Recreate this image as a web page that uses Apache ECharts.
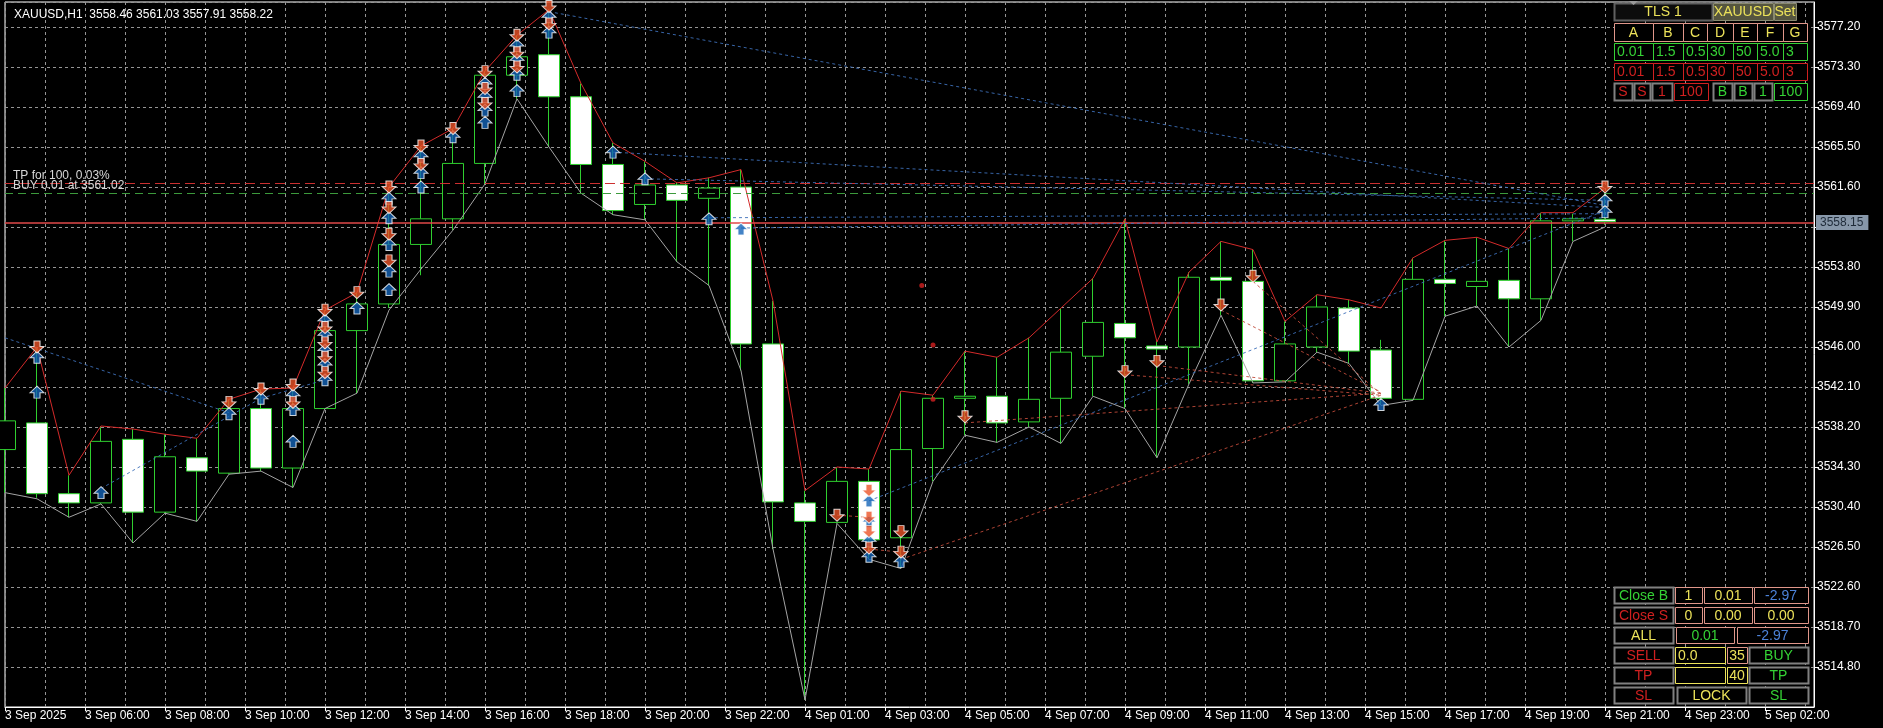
<!DOCTYPE html>
<html><head><meta charset="utf-8">
<script src="https://cdn.jsdelivr.net/npm/echarts@6/dist/echarts.min.js"></script>
<style>html,body{margin:0;padding:0;background:#000;}#c{width:1883px;height:728px;}</style>
</head><body><div id="c"></div>
<script>
// ---------- DATA ----------
const symbolName = 'XAUUSD,H1';
const timeLabels = ['3 Sep 2025','3 Sep 06:00','3 Sep 08:00','3 Sep 10:00','3 Sep 12:00','3 Sep 14:00','3 Sep 16:00','3 Sep 18:00','3 Sep 20:00','3 Sep 22:00','4 Sep 01:00','4 Sep 03:00','4 Sep 05:00','4 Sep 07:00','4 Sep 09:00','4 Sep 11:00','4 Sep 13:00','4 Sep 15:00','4 Sep 17:00','4 Sep 19:00','4 Sep 21:00','4 Sep 23:00','5 Sep 02:00'];
const opens  = [3536.0,3538.6,3531.7,3530.8,3537.0,3529.9,3535.2,3533.7,3540.0,3534.2,3540.0,3547.6,3550.2,3556.0,3558.5,3563.9,3572.5,3574.5,3570.4,3563.8,3559.9,3561.8,3560.5,3561.6,3546.3,3530.8,3528.9,3532.9,3527.4,3536.1,3541.0,3541.2,3538.7,3541.0,3545.1,3548.3,3546.1,3546.0,3552.8,3552.4,3542.7,3546.0,3549.8,3545.7,3540.9,3552.6,3551.9,3552.5,3550.7,3558.3,3558.46];
const highs  = [3542.0,3546.0,3533.5,3538.3,3538.0,3537.5,3537.1,3540.9,3541.9,3542.0,3549.6,3551.3,3561.6,3565.6,3567.3,3572.9,3576.4,3578.9,3571.7,3565.9,3564.1,3562.0,3562.5,3563.3,3550.5,3532.0,3534.3,3534.1,3541.7,3541.3,3545.6,3545.0,3546.9,3549.8,3552.7,3558.5,3546.6,3553.3,3556.3,3555.5,3548.5,3551.1,3550.6,3546.7,3554.7,3556.4,3556.7,3555.6,3559.1,3559.0,3561.03];
const lows   = [3531.8,3531.3,3529.4,3530.7,3526.9,3529.8,3529.0,3533.6,3533.9,3532.3,3540.0,3541.5,3549.8,3553.0,3557.4,3561.9,3570.2,3565.5,3561.0,3558.9,3558.4,3554.3,3552.0,3543.7,3526.3,3511.6,3528.8,3525.3,3524.4,3532.9,3537.4,3536.7,3538.2,3536.6,3541.2,3540.0,3535.2,3542.4,3549.1,3542.5,3542.6,3545.5,3544.4,3540.4,3540.8,3549.0,3550.0,3546.0,3548.6,3556.3,3557.91];
const closes = [3538.8,3531.7,3530.8,3536.8,3529.9,3535.3,3533.9,3540.0,3534.2,3540.0,3547.6,3550.2,3556.0,3558.5,3563.9,3572.5,3574.3,3570.4,3563.8,3559.3,3561.8,3560.3,3561.5,3546.3,3530.9,3529.0,3532.9,3527.2,3536.0,3541.0,3541.2,3538.6,3540.9,3545.5,3548.4,3546.9,3545.8,3552.8,3552.5,3542.7,3546.3,3549.9,3545.6,3541.0,3552.6,3552.2,3552.4,3550.7,3558.3,3558.5,3558.22];
// indicator lines (red upper line, gray lower line)
const redLine  = [3542.0,3546.0,3533.5,3538.3,3538.0,3537.5,3537.1,3540.9,3541.9,3542.0,3549.6,3551.3,3561.6,3565.6,3567.3,3572.9,3576.4,3578.9,3571.7,3565.9,3564.1,3562.0,3562.5,3563.3,3550.5,3532.0,3534.3,3534.1,3541.7,3541.3,3545.6,3545.0,3546.9,3549.8,3552.7,3558.5,3546.5,3553.3,3556.3,3555.5,3548.5,3551.1,3550.6,3549.8,3554.7,3556.4,3556.7,3555.6,3559.1,3559.1,3561.5];
const grayLine = [3531.8,3531.2,3529.4,3530.7,3526.9,3529.8,3529.0,3533.6,3533.9,3532.3,3540.0,3541.5,3549.6,3553.6,3557.4,3561.9,3570.2,3565.5,3561.0,3558.9,3558.4,3554.3,3552.0,3543.7,3526.3,3511.6,3528.8,3525.3,3524.4,3532.9,3537.4,3536.7,3538.2,3536.6,3541.2,3540.0,3535.2,3542.4,3549.1,3542.5,3542.6,3545.5,3544.4,3540.3,3540.8,3549.0,3550.0,3546.0,3548.6,3556.3,3557.7];
// trade arrows [bar, price]
const buyArrows = [[1,3545.0],[1,3541.6],[3,3531.8],[7,3539.5],[8,3541.0],[9,3541.3],[9,3539.9],[9,3536.8],
 [10,3548.6],[10,3547.2],[10,3545.7],[10,3544.3],[10,3542.8],[11,3549.8],
 [12,3560.5],[12,3558.6],[12,3556.0],[12,3553.4],[12,3551.6],[13,3564.6],[13,3563.0],[13,3561.6],[14,3566.5],
 [15,3571.7],[15,3570.4],[15,3569.1],[15,3567.9],[16,3575.4],[16,3574.0],[16,3572.6],[16,3571.0],[17,3578.2],[17,3576.7],
 [19,3565.0],[20,3562.4],[22,3558.5],[23,3557.5],[27,3531.0],[27,3529.0],[27,3527.1],[27,3525.6],[28,3525.1],[43,3540.4],[50,3560.3],[50,3559.2]];
const sellArrows = [[1,3546.0],[7,3540.6],[8,3541.9],[9,3542.3],[9,3540.6],
 [10,3549.6],[10,3547.9],[10,3546.4],[10,3545.0],[10,3543.5],[11,3551.3],
 [12,3561.6],[12,3559.6],[12,3557.0],[12,3554.4],[13,3565.6],[13,3563.8],[14,3567.3],
 [15,3572.85],[15,3571.2],[15,3569.75],[16,3576.4],[16,3574.7],[16,3573.3],[17,3579.2],[17,3577.5],
 [26,3529.6],[27,3532.0],[27,3529.4],[27,3528.0],[27,3526.4],[28,3528.0],[28,3526.0],
 [30,3539.2],[35,3543.6],[36,3544.6],[38,3550.1],[39,3552.9],[50,3561.6]];
// dotted trade lines [x1, p1, x2, p2]
const buyTradeLines = [[0,3546.9,7,3539.6],[3,3532.2,8,3541.0],[8,3541.0,10,3542.8],[17,3578.7,50,3559.8],[19,3565.0,50,3559.6],
 [20,3562.4,50,3560.3],[22,3558.6,50,3559.0],[23,3557.6,50,3558.6],[27,3531.0,50,3559.3]];
const sellTradeLines = [[35,3543.3,43,3541.3],[36,3544.2,43,3541.5],[38,3549.6,43,3541.6],[39,3552.4,43,3541.4],
 [28,3525.3,43,3541.3],[30,3538.6,43,3541.5],[26,3529.6,27,3529.4],[27,3526.3,28,3526.0]];
const sarDots = [[28.65,3552.0],[29.0,3546.2],[29.0,3540.9]];
const tpPrice = 3562.0, buyPrice = 3561.02, bidPrice = 3558.15;
const tpText = 'TP for 100, 0.03%';
const buyText = 'BUY 0.01 at ' + buyPrice.toFixed(2);
const Y_MIN = 3510.9, Y_STEP = 3.9, Y_MAX = 3579.64;

// ---------- CHART ----------
const FONT = 'Liberation Sans, Arial, sans-serif';
const GREEN = '#2fcf2f';
const GRIDC = '#959595';
const X_MAX = 1809 / 32;
const candleData = opens.map((o, i) => [i, o, closes[i], lows[i], highs[i]]);
const last = opens.length - 1;
const titleText = symbolName + '  ' + [opens[last], highs[last], lows[last], closes[last]].map(v => v.toFixed(2)).join(' ');
const UP = 'path://M6,0 L12,6 L8.6,6 L8.6,11 L3.4,11 L3.4,6 L0,6 Z';

const chart = echarts.init(document.getElementById('c'), null, {renderer: 'canvas'});

// panels (UI widgets)
const SAL = '#e0968a', YEL = '#ece25a', GR = '#35d235', RD = '#d02020', BL = '#4c82d8', BTN = '#808080';
const graphics = [];
function cell(x, y, w, h, text, stroke, color, opt) {
  opt = opt || {};
  graphics.push({type: 'rect', z: 100, shape: {x: x + 0.5, y: y + 0.5, width: w, height: h},
    style: {fill: opt.fill || '#000', stroke: stroke, lineWidth: opt.lw || 1}});
  if (text !== '') {
    const left = opt.align === 'left';
    graphics.push({type: 'text', z: 101, style: {text: text, x: left ? x + 3 : x + w / 2, y: y + h / 2 + 1,
      align: left ? 'left' : 'center', verticalAlign: 'middle', fill: color, font: (opt.fs || 14) + 'px ' + FONT}});
  }
}
// top panel
cell(1614, 3, 98, 17, 'TLS 1', '#606060', YEL, {fill: '#0c0c0c', lw: 2});
cell(1713, 3, 60, 17, 'XAUUSD', '#8a8a70', YEL, {fill: '#55553f'});
cell(1774, 3, 22, 17, 'Set', '#8a8a70', YEL, {fill: '#55553f'});
graphics.push({type: 'polygon', z: 102, shape: {points: [[1629, 1], [1638, 1], [1633.5, 5]]}, style: {fill: '#9a9a9a'}});
const colX = [1614, 1653, 1683, 1707, 1733, 1757, 1783, 1807];
const heads = ['A', 'B', 'C', 'D', 'E', 'F', 'G'];
const rowG = ['0.01', '1.5', '0.5', '30', '50', '5.0', '3'];
heads.forEach((t, i) => {
  const w = colX[i + 1] - colX[i];
  cell(colX[i], 23, w, 18, t, SAL, YEL, {});
  cell(colX[i], 43, w, 17, rowG[i], GR, GR, {align: 'left'});
  cell(colX[i], 63, w, 17, rowG[i], RD, RD, {align: 'left'});
});
cell(1614, 83, 18, 17, 'S', BTN, RD, {lw: 2});
cell(1634, 83, 16, 17, 'S', BTN, RD, {lw: 2});
cell(1652, 83, 20, 17, '1', BTN, RD, {lw: 2});
cell(1674, 83, 34, 17, '100', RD, RD, {});
cell(1713, 83, 19, 17, 'B', BTN, GR, {lw: 2});
cell(1734, 83, 18, 17, 'B', BTN, GR, {lw: 2});
cell(1754, 83, 18, 17, '1', BTN, GR, {lw: 2});
cell(1774, 83, 33, 17, '100', GR, GR, {});
// bottom panel
cell(1614, 587, 59, 16, 'Close B', BTN, GR, {lw: 2});
cell(1675, 587, 27, 16, '1', SAL, YEL, {});
cell(1704, 587, 48, 16, '0.01', SAL, YEL, {});
cell(1754, 587, 54, 16, '-2.97', SAL, BL, {});
cell(1614, 607, 59, 16, 'Close S', BTN, RD, {lw: 2});
cell(1675, 607, 27, 16, '0', SAL, YEL, {});
cell(1704, 607, 48, 16, '0.00', SAL, YEL, {});
cell(1754, 607, 54, 16, '0.00', SAL, YEL, {});
cell(1614, 627, 59, 16, 'ALL', BTN, YEL, {lw: 2});
cell(1676, 627, 58, 16, '0.01', SAL, GR, {});
cell(1737, 627, 71, 16, '-2.97', SAL, BL, {});
cell(1614, 647, 59, 16, 'SELL', BTN, RD, {lw: 2});
cell(1675, 647, 50, 16, '0.0', YEL, YEL, {align: 'left'});
cell(1727, 647, 20, 16, '35', SAL, YEL, {});
cell(1749, 647, 59, 16, 'BUY', BTN, GR, {lw: 2});
cell(1614, 667, 59, 16, 'TP', BTN, RD, {lw: 2});
cell(1675, 667, 50, 16, '', YEL, YEL, {});
cell(1727, 667, 20, 16, '40', YEL, YEL, {});
cell(1749, 667, 59, 16, 'TP', BTN, GR, {lw: 2});
cell(1614, 687, 59, 16, 'SL', BTN, RD, {lw: 2});
cell(1677, 687, 69, 16, 'LOCK', BTN, YEL, {lw: 2});
cell(1749, 687, 59, 16, 'SL', BTN, GR, {lw: 2});

const toLines = arr => arr.map(a => ({coords: [[a[0], a[1]], [a[2], a[3]]]}));

const option = {
  backgroundColor: '#000',
  animation: false,
  title: {text: titleText, left: 9, top: 4, textStyle: {color: '#fff', fontSize: 12, fontWeight: 'normal', fontFamily: FONT}},
  grid: {left: 5, right: 69, top: 2, bottom: 21, show: true, borderColor: '#fff', borderWidth: 1, backgroundColor: 'transparent'},
  xAxis: [
    {type: 'value', min: 0, max: X_MAX, interval: 2.5, position: 'bottom',
      axisLine: {show: true, onZero: false, lineStyle: {color: '#fff'}},
      axisTick: {show: true, length: 4, lineStyle: {color: '#fff'}},
      axisLabel: {color: '#fff', fontSize: 12, fontFamily: FONT, align: 'left', margin: 3, showMaxLabel: false,
        formatter: v => { const j = Math.round(v / 2.5); return Math.abs(v - j * 2.5) < 1e-6 && timeLabels[j] ? timeLabels[j] : ''; }},
      splitLine: {show: false}},
    {type: 'value', min: 0, max: X_MAX, interval: 1.25, position: 'top',
      axisLine: {show: false}, axisTick: {show: false}, axisLabel: {show: false},
      splitLine: {show: true, lineStyle: {color: GRIDC, type: [3, 3], width: 1}}}
  ],
  yAxis: {type: 'value', position: 'right', min: Y_MIN, max: Y_MAX, interval: Y_STEP,
    axisLine: {show: true, onZero: false, lineStyle: {color: '#fff'}},
    axisTick: {show: true, length: 5, lineStyle: {color: '#fff'}},
    axisLabel: {color: '#fff', fontSize: 12, fontFamily: FONT, margin: 3, showMinLabel: false, showMaxLabel: false,
      formatter: v => v.toFixed(2)},
    splitLine: {show: true, lineStyle: {color: GRIDC, type: [3, 3], width: 1}}},
  graphic: graphics,
  series: [
    {type: 'candlestick', name: 'price', xAxisIndex: 0, data: candleData, barWidth: 21, z: 3,
      itemStyle: {color: '#000', color0: '#fff', borderColor: GREEN, borderColor0: GREEN, borderColorDoji: GREEN, borderWidth: 1}},
    {type: 'line', name: 'upper', xAxisIndex: 0, data: redLine.map((v, i) => [i, v]), symbol: 'none', z: 4,
      lineStyle: {color: '#d42a2a', width: 1}},
    {type: 'line', name: 'lower', xAxisIndex: 0, data: grayLine.map((v, i) => [i, v]), symbol: 'none', z: 4,
      lineStyle: {color: '#a4a4a4', width: 1},
      markLine: {silent: true, symbol: ['none', 'none'], animation: false,
        data: [
          {yAxis: tpPrice, lineStyle: {color: '#cc3030', type: [10, 5], width: 1},
            label: {show: true, position: 'insideStartTop', distance: 1, padding: [0, 0, 0, 7], formatter: tpText, color: '#d8d8d8', fontSize: 12, fontFamily: FONT}},
          {yAxis: buyPrice, lineStyle: {color: '#3c9a3c', type: [8, 5], width: 1},
            label: {show: true, position: 'insideStartTop', distance: 1, padding: [0, 0, 0, 7], formatter: buyText, color: '#d8d8d8', fontSize: 12, fontFamily: FONT}},
          {yAxis: bidPrice, lineStyle: {color: '#e04848', type: 'solid', width: 1.5},
            label: {show: true, position: 'end', distance: 2, formatter: bidPrice.toFixed(2), color: '#1e2a38',
              backgroundColor: '#8797a9', padding: [2, 5, 1, 4], fontSize: 12, fontFamily: FONT}}
        ]}},
    {type: 'lines', coordinateSystem: 'cartesian2d', xAxisIndex: 0, z: 5, silent: true, data: toLines(buyTradeLines),
      lineStyle: {color: '#3d6fb8', type: [3, 3], width: 1, opacity: 0.9}},
    {type: 'lines', coordinateSystem: 'cartesian2d', xAxisIndex: 0, z: 5, silent: true, data: toLines(sellTradeLines),
      lineStyle: {color: '#c04a3a', type: [3, 3], width: 1, opacity: 0.9}},
    {type: 'scatter', xAxisIndex: 0, data: sarDots, symbol: 'circle', symbolSize: 5, z: 6, itemStyle: {color: '#d42020'}},
    {type: 'scatter', xAxisIndex: 0, data: buyArrows, symbol: UP, symbolSize: [14, 12], z: 7,
      itemStyle: {color: '#1464b8', borderColor: '#fff', borderWidth: 1}},
    {type: 'scatter', xAxisIndex: 0, data: sellArrows, symbol: UP, symbolRotate: 180, symbolSize: [14, 12], z: 7,
      itemStyle: {color: '#ec5428', borderColor: '#fff', borderWidth: 1}}
  ]
};
chart.setOption(option);
</script></body></html>
